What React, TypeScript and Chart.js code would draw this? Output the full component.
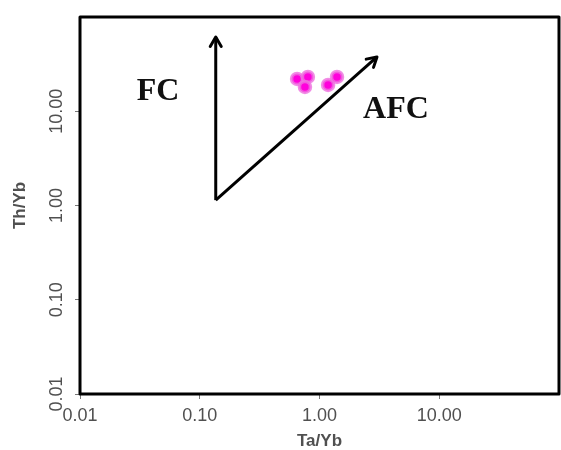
import React, { useEffect, useRef } from "react";
import { Chart, registerables } from "chart.js";

Chart.register(...registerables);

// Sample points (Ta/Yb vs Th/Yb)
const taYb = [0.65, 0.8, 0.756, 1.18, 1.4];
const thYb = [22.0, 23.1, 18.1, 19.0, 23.1];

// Trend arrows
const fcX = [0.136, 0.136];
const fcY = [1.14, 61.4];
const afcX = [0.136, 3.02];
const afcY = [1.14, 37.7];

// Annotation labels
const noteText = ["FC", "AFC"];
const noteX = [0.0448, 4.35];
const noteY = [16.0, 10.4];

// Axis ticks
const xTicks = [0.01, 0.1, 1, 10];
const yTicks = [0.01, 0.1, 1, 10];

const frameAndNotes = {
  id: "frameAndNotes",
  afterDatasetsDraw(chart: any) {
    const { ctx, chartArea, scales } = chart;
    ctx.save();
    chart.data.datasets.forEach((ds: any, i: number) => {
      if (!ds.isArrow) return;
      const meta = chart.getDatasetMeta(i);
      const pts = meta.data;
      const a = pts[pts.length - 2];
      const b = pts[pts.length - 1];
      const ang = Math.atan2(b.y - a.y, b.x - a.x);
      const len = 11;
      const spread = Math.PI / 6;
      ctx.strokeStyle = "#000";
      ctx.lineWidth = 3;
      ctx.lineCap = "round";
      ctx.lineJoin = "round";
      ctx.beginPath();
      ctx.moveTo(b.x - len * Math.cos(ang - spread), b.y - len * Math.sin(ang - spread));
      ctx.lineTo(b.x, b.y);
      ctx.lineTo(b.x - len * Math.cos(ang + spread), b.y - len * Math.sin(ang + spread));
      ctx.stroke();
    });
    ctx.fillStyle = "#111";
    ctx.font = "bold 32px 'Liberation Serif', 'Times New Roman', serif";
    ctx.textAlign = "center";
    ctx.textBaseline = "middle";
    noteText.forEach((t, i) => {
      const px = scales.x.getPixelForValue(noteX[i]);
      const py = scales.y.getPixelForValue(noteY[i]);
      ctx.fillText(t, px, py);
    });
    ctx.strokeStyle = "#000";
    ctx.lineWidth = 3;
    ctx.lineCap = "butt";
    ctx.strokeRect(
      chartArea.left,
      chartArea.top,
      chartArea.right - chartArea.left,
      chartArea.bottom - chartArea.top
    );
    ctx.restore();
  },
};

export default function App() {
  const ref = useRef<HTMLCanvasElement | null>(null);
  useEffect(() => {
    if (!ref.current) return;
    const tickFont = { family: "'Liberation Sans', Arial, sans-serif", size: 18 };
    const titleFont = { family: "'Liberation Sans', Arial, sans-serif", size: 17, weight: "bold", lineHeight: 1 };
    const chart = new Chart(ref.current, {
      type: "scatter",
      data: {
        datasets: [
          {
            label: "samples",
            data: taYb.map((x, i) => ({ x, y: thYb[i] })),
            backgroundColor: "#ff00dc",
            borderColor: "rgba(238,112,222,0.8)",
            borderWidth: 3.5,
            pointRadius: 5.5,
            showLine: false,
          },
          {
            label: "FC",
            isArrow: true,
            data: fcX.map((x, i) => ({ x, y: fcY[i] })),
            showLine: true,
            borderColor: "#000",
            borderWidth: 3,
            pointRadius: 0,
          } as any,
          {
            label: "AFC",
            isArrow: true,
            data: afcX.map((x, i) => ({ x, y: afcY[i] })),
            showLine: true,
            borderColor: "#000",
            borderWidth: 3,
            pointRadius: 0,
          } as any,
        ],
      },
      options: {
        responsive: false,
        animation: false,
        layout: { autoPadding: false, padding: { top: 17, right: 2, left: 0, bottom: 0 } },
        plugins: { legend: { display: false }, tooltip: { enabled: false } },
        scales: {
          x: {
            type: "logarithmic",
            min: 0.01,
            max: 100,
            afterBuildTicks: (s: any) => {
              s.ticks = xTicks.map((v) => ({ value: v }));
            },
            afterFit: (s: any) => {
              s.height = 56;
              s.paddingLeft = 0;
              s.paddingRight = 0;
            },
            ticks: {
              color: "#505050",
              font: tickFont,
              padding: 6,
              maxRotation: 0,
              minRotation: 0,
              callback: (v: any) => Number(v).toFixed(2),
            },
            grid: { drawOnChartArea: false, tickLength: 5, color: "#777" },
            border: { display: false },
            title: {
              display: true,
              text: "Ta/Yb",
              color: "#505050",
              font: titleFont,
              padding: { top: 0, bottom: 0 },
            },
          },
          y: {
            type: "logarithmic",
            min: 0.01,
            max: 100,
            afterBuildTicks: (s: any) => {
              s.ticks = yTicks.map((v) => ({ value: v }));
            },
            afterFit: (s: any) => {
              s.width = 80;
              s.paddingTop = 0;
              s.paddingBottom = 0;
            },
            ticks: {
              color: "#505050",
              font: tickFont,
              padding: -5,
              minRotation: 90,
              maxRotation: 90,
              crossAlign: "center",
              callback: (v: any) => Number(v).toFixed(2),
            },
            grid: { drawOnChartArea: false, tickLength: 5, color: "#777" },
            border: { display: false },
            title: {
              display: true,
              text: "Th/Yb",
              color: "#505050",
              font: titleFont,
              padding: { top: 12, bottom: 0 },
            },
          },
        },
      },
      plugins: [frameAndNotes],
    } as any);
    return () => chart.destroy();
  }, []);
  return (
    <div style={{ position: "fixed", left: 0, top: 0, width: 561, height: 450, background: "#fff" }}>
      <canvas ref={ref} width={561} height={450} />
    </div>
  );
}
